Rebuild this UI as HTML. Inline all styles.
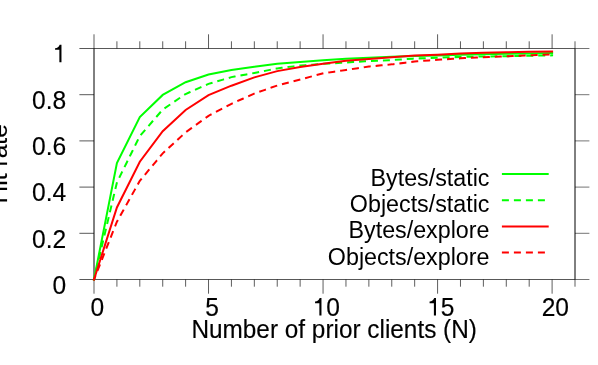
<!DOCTYPE html>
<html><head><meta charset="utf-8"><title>Hit rate</title>
<style>
html,body{margin:0;padding:0;background:#fff;}
body{width:598px;height:365px;overflow:hidden;font-family:"Liberation Sans",sans-serif;}
svg{display:block;will-change:transform;}
text{font-family:"Liberation Sans",sans-serif;font-size:23.28px;fill:#000;}
text.t{font-size:24.6px;stroke:#000;stroke-width:0.15px;}
</style></head><body>
<svg width="598" height="365" viewBox="0 0 598 365">
<rect width="598" height="365" fill="#fff"/>

<g stroke="#000" stroke-width="0.8" fill="none" stroke-linecap="butt">
<path d="M94.00,48.50 H575.00 M94.00,279.50 H575.00" stroke-width="0.66"/>
<path d="M94.00,48.50 V279.50 M575.00,48.50 V279.50" stroke-width="1.0"/>
<path d="M79.40,279.50 H94.00 M79.40,233.30 H94.00 M79.40,187.10 H94.00 M79.40,140.90 H94.00 M79.40,94.70 H94.00 M79.40,48.50 H94.00 " stroke-width="0.66"/>
<path d="M575.00,279.50 H589.40 M575.00,233.30 H589.40 M575.00,187.10 H589.40 M575.00,140.90 H589.40 M575.00,94.70 H589.40 M575.00,48.50 H589.40 " stroke-width="0.55"/>
<path d="M94.00,48.50 V34.30 M94.00,279.50 V293.70 M116.91,48.50 V41.30 M116.91,279.50 V286.70 M139.81,48.50 V41.30 M139.81,279.50 V286.70 M162.72,48.50 V41.30 M162.72,279.50 V286.70 M185.62,48.50 V41.30 M185.62,279.50 V286.70 M208.53,48.50 V34.30 M208.53,279.50 V293.70 M231.43,48.50 V41.30 M231.43,279.50 V286.70 M254.34,48.50 V41.30 M254.34,279.50 V286.70 M277.24,48.50 V41.30 M277.24,279.50 V286.70 M300.14,48.50 V41.30 M300.14,279.50 V286.70 M323.05,48.50 V34.30 M323.05,279.50 V293.70 M345.96,48.50 V41.30 M345.96,279.50 V286.70 M368.86,48.50 V41.30 M368.86,279.50 V286.70 M391.76,48.50 V41.30 M391.76,279.50 V286.70 M414.67,48.50 V41.30 M414.67,279.50 V286.70 M437.58,48.50 V34.30 M437.58,279.50 V293.70 M460.48,48.50 V41.30 M460.48,279.50 V286.70 M483.38,48.50 V41.30 M483.38,279.50 V286.70 M506.29,48.50 V41.30 M506.29,279.50 V286.70 M529.20,48.50 V41.30 M529.20,279.50 V286.70 M552.10,48.50 V34.30 M552.10,279.50 V293.70 M575.00,48.50 V41.30 M575.00,279.50 V286.70 " stroke-width="0.64"/>
</g>
<g fill="none" stroke-width="2" stroke-linejoin="miter" stroke-linecap="square">
<path d="M94.00,279.50 L116.91,163.08 L139.81,116.99 L162.72,94.93 L185.62,82.23 L208.53,74.49 L231.43,70.03 L254.34,66.70 L277.24,63.86 L300.14,61.94 L323.05,60.35 L345.96,58.78 L368.86,57.81 L391.76,56.86 L414.67,56.12 L437.58,55.43 L460.48,54.78 L483.38,54.23 L506.29,53.77 L529.20,53.42 L552.10,53.07" stroke="#00ff00"/>
<path d="M94.00,279.50 L116.91,182.48 L139.81,136.05 L162.72,109.58 L185.62,94.01 L208.53,83.84 L231.43,77.14 L254.34,72.99 L277.24,68.39 L300.14,65.55 L323.05,63.86 L345.96,62.50 L368.86,61.04 L391.76,60.05 L414.67,58.55 L437.58,57.74 L460.48,56.93 L483.38,56.54 L506.29,56.19 L529.20,55.78 L552.10,55.34" stroke="#00ff00" stroke-dasharray="5 6.955" stroke-dashoffset="1.7"/>
<path d="M94.00,279.50 L116.91,207.50 L139.81,161.69 L162.72,131.20 L185.62,110.02 L208.53,95.16 L231.43,85.69 L254.34,77.38 L277.24,71.14 L300.14,66.96 L323.05,63.70 L345.96,60.70 L368.86,58.90 L391.76,57.19 L414.67,55.52 L437.58,54.69 L460.48,53.56 L483.38,52.87 L506.29,52.20 L529.20,51.85 L552.10,51.43" stroke="#ff0000"/>
<path d="M94.00,279.50 L116.91,221.75 L139.81,180.86 L162.72,153.37 L185.62,132.35 L208.53,115.84 L231.43,103.82 L254.34,93.54 L277.24,85.55 L300.14,79.57 L323.05,73.31 L345.96,69.98 L368.86,66.52 L391.76,64.37 L414.67,61.48 L437.58,59.82 L460.48,58.29 L483.38,57.21 L506.29,56.35 L529.20,55.43 L552.10,54.44" stroke="#ff0000" stroke-dasharray="5 6.955" stroke-dashoffset="1.7"/>
<path d="M502.9,174.1 H547.7" stroke="#00ff00"/>
<path d="M502.9,200.2 H547.7" stroke="#00ff00" stroke-dasharray="5 7"/>
<path d="M502.9,226.4 H547.7" stroke="#ff0000"/>
<path d="M502.9,252.6 H547.7" stroke="#ff0000" stroke-dasharray="5 7"/>
</g>
<text x="489.5" y="185.7" text-anchor="end">Bytes/static</text>
<text x="489.5" y="212.4" text-anchor="end">Objects/static</text>
<text x="489.5" y="237.9" text-anchor="end">Bytes/explore</text>
<text x="489.5" y="264.9" text-anchor="end">Objects/explore</text>
<g transform="translate(52.62,293.75) scale(1,1.035)"><text class="t" x="0.00" y="0">0</text></g>
<g transform="translate(32.10,247.55) scale(1,1.035)"><text class="t" x="0.00" y="0">0.2</text></g>
<g transform="translate(32.10,201.35) scale(1,1.035)"><text class="t" x="0.00" y="0">0.4</text></g>
<g transform="translate(32.10,155.15) scale(1,1.035)"><text class="t" x="0.00" y="0">0.6</text></g>
<g transform="translate(32.10,108.95) scale(1,1.035)"><text class="t" x="0.00" y="0">0.8</text></g>
<g transform="translate(52.62,62.20) scale(1,1.035)"><path d="M6.75,0 L6.75,-12.04 L2.45,-12.04 L2.45,-13.54 C4.8,-13.78 6.25,-14.54 7.05,-16.9 L8.85,-16.9 L8.85,0 Z" transform="translate(0.00,0)" fill="#000"/></g>
<g transform="translate(90.41,315.60) scale(1,1.035)"><text class="t" x="0.00" y="0">0</text></g>
<g transform="translate(205.18,315.60) scale(1,1.035)"><text class="t" x="0.00" y="0">5</text></g>
<g transform="translate(312.62,315.60) scale(1,1.035)"><path d="M6.75,0 L6.75,-12.04 L2.45,-12.04 L2.45,-13.54 C4.8,-13.78 6.25,-14.54 7.05,-16.9 L8.85,-16.9 L8.85,0 Z" transform="translate(0.00,0)" fill="#000"/><text class="t" x="13.68" y="0">0</text></g>
<g transform="translate(427.14,315.60) scale(1,1.035)"><path d="M6.75,0 L6.75,-12.04 L2.45,-12.04 L2.45,-13.54 C4.8,-13.78 6.25,-14.54 7.05,-16.9 L8.85,-16.9 L8.85,0 Z" transform="translate(0.00,0)" fill="#000"/><text class="t" x="13.68" y="0">5</text></g>
<g transform="translate(541.67,315.60) scale(1,1.035)"><text class="t" x="0.00" y="0">20</text></g>
<text class="t" transform="translate(191.4,337.7) scale(1,1.06)" textLength="285.5" lengthAdjust="spacingAndGlyphs">Number of prior clients (N)</text>
<text class="t" transform="translate(7.0,163.8) rotate(-90)" text-anchor="middle">Hit rate</text>
</svg></body></html>
